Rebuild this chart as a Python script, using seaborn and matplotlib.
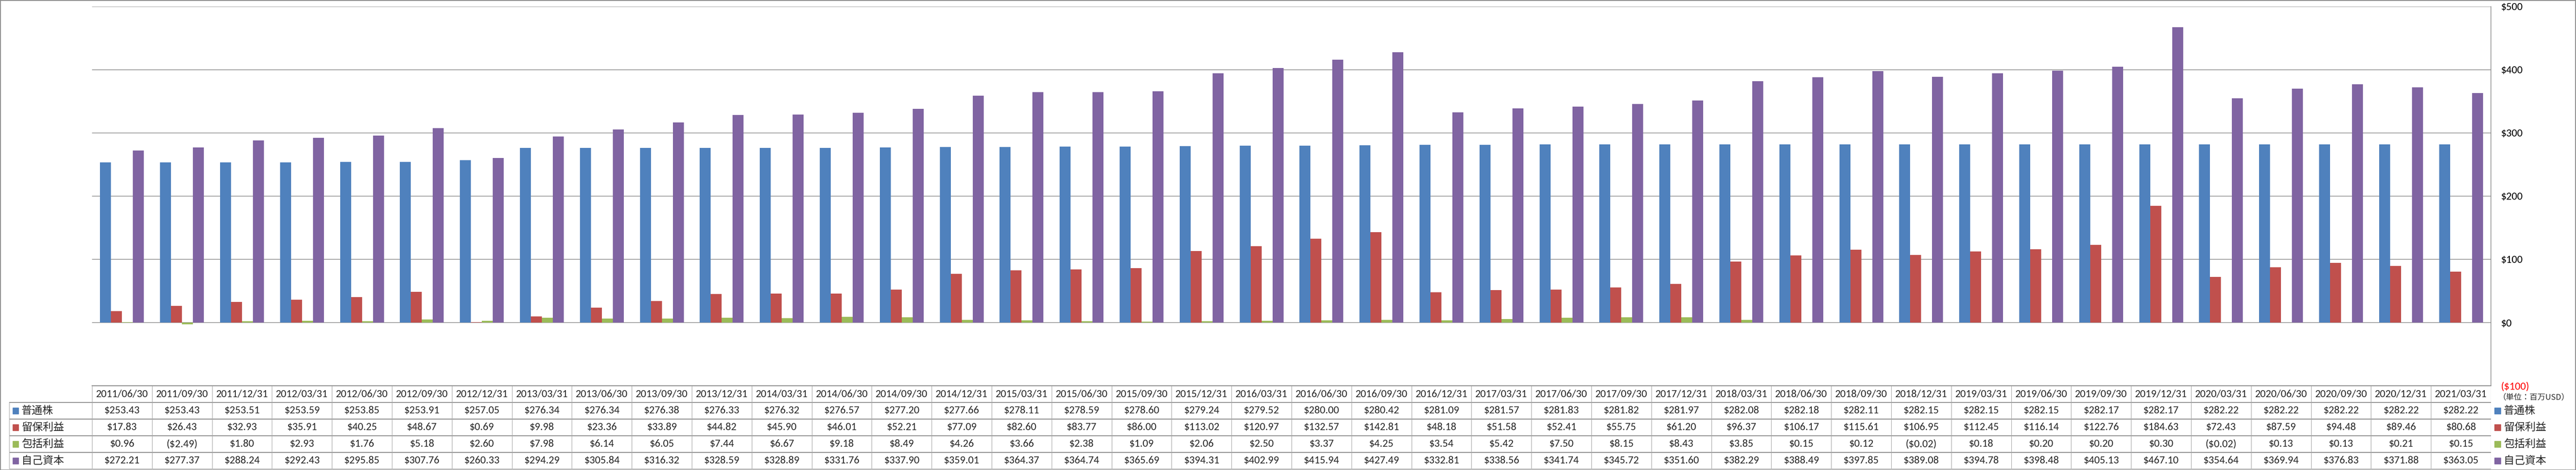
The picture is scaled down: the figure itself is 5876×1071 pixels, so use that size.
import pandas as pd
import matplotlib
matplotlib.use("Agg")
import matplotlib.pyplot as plt
import seaborn as sns
from matplotlib import font_manager
from matplotlib.patches import Rectangle

# data (unit: million USD)
dates = ["2011/06/30", "2011/09/30", "2011/12/31", "2012/03/31", "2012/06/30",
         "2012/09/30", "2012/12/31", "2013/03/31", "2013/06/30", "2013/09/30",
         "2013/12/31", "2014/03/31", "2014/06/30", "2014/09/30", "2014/12/31",
         "2015/03/31", "2015/06/30", "2015/09/30", "2015/12/31", "2016/03/31",
         "2016/06/30", "2016/09/30", "2016/12/31", "2017/03/31", "2017/06/30",
         "2017/09/30", "2017/12/31", "2018/03/31", "2018/06/30", "2018/09/30",
         "2018/12/31", "2019/03/31", "2019/06/30", "2019/09/30", "2019/12/31",
         "2020/03/31", "2020/06/30", "2020/09/30", "2020/12/31", "2021/03/31"]
common_stock = [253.43, 253.43, 253.51, 253.59, 253.85, 253.91, 257.05, 276.34, 276.34, 276.38,
                276.33, 276.32, 276.57, 277.20, 277.66, 278.11, 278.59, 278.60, 279.24, 279.52,
                280.00, 280.42, 281.09, 281.57, 281.83, 281.82, 281.97, 282.08, 282.18, 282.11,
                282.15, 282.15, 282.15, 282.17, 282.17, 282.22, 282.22, 282.22, 282.22, 282.22]
retained = [17.83, 26.43, 32.93, 35.91, 40.25, 48.67, 0.69, 9.98, 23.36, 33.89,
            44.82, 45.90, 46.01, 52.21, 77.09, 82.60, 83.77, 86.00, 113.02, 120.97,
            132.57, 142.81, 48.18, 51.58, 52.41, 55.75, 61.20, 96.37, 106.17, 115.61,
            106.95, 112.45, 116.14, 122.76, 184.63, 72.43, 87.59, 94.48, 89.46, 80.68]
comprehensive = [0.96, -2.49, 1.80, 2.93, 1.76, 5.18, 2.60, 7.98, 6.14, 6.05,
                 7.44, 6.67, 9.18, 8.49, 4.26, 3.66, 2.38, 1.09, 2.06, 2.50,
                 3.37, 4.25, 3.54, 5.42, 7.50, 8.15, 8.43, 3.85, 0.15, 0.12,
                 -0.02, 0.18, 0.20, 0.20, 0.30, -0.02, 0.13, 0.13, 0.21, 0.15]
equity = [272.21, 277.37, 288.24, 292.43, 295.85, 307.76, 260.33, 294.29, 305.84, 316.32,
          328.59, 328.89, 331.76, 337.90, 359.01, 364.37, 364.74, 365.69, 394.31, 402.99,
          415.94, 427.49, 332.81, 338.56, 341.74, 345.72, 351.60, 382.29, 388.49, 397.85,
          389.08, 394.78, 398.48, 405.13, 467.10, 354.64, 369.94, 376.83, 371.88, 363.05]
series_names = ["普通株", "留保利益", "包括利益", "自己資本"]
colors = ["#4F81BD", "#C0504D", "#9BBB59", "#8064A2"]
y_ticks = [-100, 0, 100, 200, 300, 400, 500]
unit_label = "（単位：百万USD）"

series_values = [common_stock, retained, comprehensive, equity]
df = pd.DataFrame({
    "date": dates * 4,
    "series": [n for n in series_names for _ in dates],
    "value": [v for vals in series_values for v in vals],
})


def money(v, dec=2):
    s = f"${abs(v):,.{dec}f}"
    return f"({s})" if v < 0 else s


sns.set_theme(style="white")
installed = {f.name for f in font_manager.fontManager.ttflist}
# Calibri look-alike for numbers, else plain Liberation Sans a bit smaller
num_font, nsize = "Liberation Sans", 16
for name, size in [("Carlito", 17.7), ("Calibri", 17.7)]:
    if name in installed:
        num_font, nsize = name, size
        break
cjk = ["Noto Sans CJK JP", "DejaVu Sans"]
plt.rcParams["font.family"] = [num_font, "Noto Sans CJK JP"]

W, H = 5876, 1071
fig = plt.figure(figsize=(W / 100, H / 100), dpi=100)


def frac(x0, y0, x1, y1):
    return [x0 / W, 1 - y1 / H, (x1 - x0) / W, (y1 - y0) / H]


px = 0.72  # one pixel in points
grid_c = "#868686"
line_c = "#8C8C8C"

# bar chart
plot_l, plot_r, plot_t, plot_b = 210, 5682, 15, 879
ax = fig.add_axes(frac(plot_l, plot_t, plot_r, plot_b))
sns.barplot(data=df, x="date", y="value", hue="series", order=dates,
            hue_order=series_names, palette=colors, width=0.73, saturation=1,
            linewidth=0, errorbar=None, legend=False, ax=ax)
ax.set_xlim(-0.5, len(dates) - 0.5)
ax.set_ylim(-100, 500)
ax.set_xlabel("")
ax.set_ylabel("")
ax.set_xticks([])
ax.yaxis.tick_right()
ax.set_yticks(y_ticks)
ax.set_yticklabels([money(t, 0) for t in y_ticks])
ax.tick_params(axis="y", length=0, pad=16, labelsize=nsize, labelcolor="black")
for t, lab in zip(y_ticks, ax.get_yticklabels()):
    if t < 0:
        lab.set_color("red")
ax.hlines([t for t in y_ticks if t >= 0], -0.5, len(dates) - 0.5,
          colors=grid_c, lw=1.5 * px, zorder=0)
for side in ["left", "top"]:
    ax.spines[side].set_visible(False)
ax.spines["right"].set_color(grid_c)
ax.spines["right"].set_linewidth(1.5 * px)
ax.spines["bottom"].set_color(line_c)
ax.spines["bottom"].set_linewidth(2 * px)

# data table under the bars
tab_l, tab_b = 21, 1069
cat_w = (plot_r - plot_l) / len(dates)
x_left = -0.5 - (plot_l - tab_l) / cat_w
n_rows = len(series_names) + 1
tab = fig.add_axes(frac(tab_l, plot_b, plot_r, tab_b))
tab.set_xlim(x_left, len(dates) - 0.5)
tab.set_ylim(n_rows, 0)
tab.axis("off")

tab.hlines(0, -0.5, len(dates) - 0.5, colors=line_c, lw=2 * px)
tab.hlines(range(1, n_rows + 1), x_left, len(dates) - 0.5, colors=line_c, lw=2 * px)
tab.vlines([k - 0.5 for k in range(len(dates) + 1)], 0, n_rows, colors="#A6A6A6", lw=1.2 * px)
tab.vlines(x_left, 1, n_rows, colors="#A6A6A6", lw=1.2 * px)

for i, d in enumerate(dates):
    tab.text(i, 0.5, d, ha="center", va="center", fontsize=nsize, family=num_font)
    for r, vals in enumerate(series_values):
        tab.text(i, r + 1.5, money(vals[i]), ha="center", va="center",
                 fontsize=nsize, family=num_font)

for r, (name, c) in enumerate(zip(series_names, colors)):
    yc = plot_b + (r + 1.5) * (tab_b - plot_b) / n_rows
    # row header inside the table
    fig.patches.append(Rectangle((29 / W, 1 - (yc + 7) / H), 13 / W, 14 / H,
                                 transform=fig.transFigure, color=c))
    fig.text(49 / W, 1 - yc / H, name, ha="left", va="center", fontsize=17.5, family=cjk)
    # legend on the right
    fig.patches.append(Rectangle((5690 / W, 1 - (yc + 7) / H), 14 / W, 14 / H,
                                 transform=fig.transFigure, color=c))
    fig.text(5711 / W, 1 - yc / H, name, ha="left", va="center", fontsize=17.5, family=cjk)

fig.text(5698 / W, 1 - 906 / H, unit_label, ha="left", va="center", fontsize=13, family=cjk)

# outer frame
fig.patches.append(Rectangle((0.5 / W, 0.5 / H), (W - 1.5) / W, (H - 1.5) / H,
                             transform=fig.transFigure, fill=False,
                             edgecolor=line_c, lw=2 * px))

fig.savefig("out.png", dpi=100)
print("saved out.png")
